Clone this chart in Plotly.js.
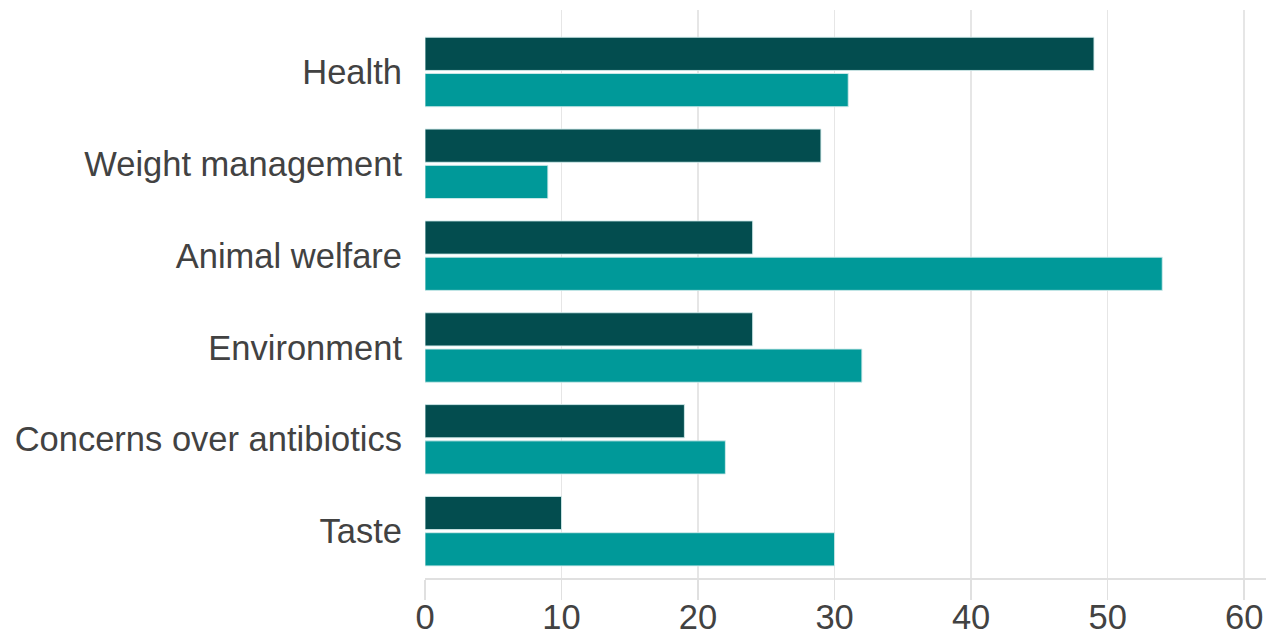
<!DOCTYPE html>
<html>
<head>
<meta charset="utf-8">
<script src="https://cdn.plot.ly/plotly-3.0.1.min.js"></script>
<style>html,body{margin:0;padding:0;background:#fff;}#chart{width:1266px;height:634px;}</style>
</head>
<body>
<div id="chart"></div>
<script>
const categories = ["Health", "Weight management", "Animal welfare", "Environment", "Concerns over antibiotics", "Taste"];
const seriesDark = [49, 29, 24, 24, 19, 10];
const seriesTeal = [31, 9, 54, 32, 22, 30];
const xTicks = [0, 10, 20, 30, 40, 50, 60];

const barLine = {color: 'rgba(210,235,235,0.9)', width: 1};
const traces = [
  {type: 'bar', orientation: 'h', name: 'Series 1', y: categories, x: seriesDark,
   marker: {color: '#034d4f', line: barLine}, hoverinfo: 'x+y'},
  {type: 'bar', orientation: 'h', name: 'Series 2', y: categories, x: seriesTeal,
   marker: {color: '#009999', line: barLine}, hoverinfo: 'x+y'}
];

const layout = {
  width: 1266, height: 634,
  margin: {l: 425, r: 0, t: 10, b: 56, pad: 0},
  paper_bgcolor: '#ffffff', plot_bgcolor: '#ffffff',
  showlegend: false,
  barmode: 'group',
  bargap: 0.21,
  bargroupgap: 0.085,
  font: {family: '"Liberation Sans", Arial, sans-serif', size: 34.5, color: '#424242'},
  xaxis: {
    range: [0, 61.6], tickvals: xTicks, ticktext: xTicks.map(String),
    showgrid: true, gridcolor: '#e6e6e6', gridwidth: 1.5,
    zeroline: false,
    showline: true, linecolor: '#e0e0e0', linewidth: 2,
    ticks: 'outside', ticklen: 20, tickcolor: '#e0e0e0', tickwidth: 1.5,
    ticklabelstandoff: -12,
    tickfont: {size: 34.5, color: '#424242'}, fixedrange: true
  },
  yaxis: {
    type: 'category', categoryorder: 'array', categoryarray: categories,
    range: [5.51, -0.675],
    showgrid: false, zeroline: false, showline: false,
    ticks: '', ticklabelstandoff: 22,
    tickfont: {size: 34.5, color: '#424242'}, fixedrange: true
  }
};

Plotly.newPlot('chart', traces, layout, {displayModeBar: false, staticPlot: true});
</script>
</body>
</html>
